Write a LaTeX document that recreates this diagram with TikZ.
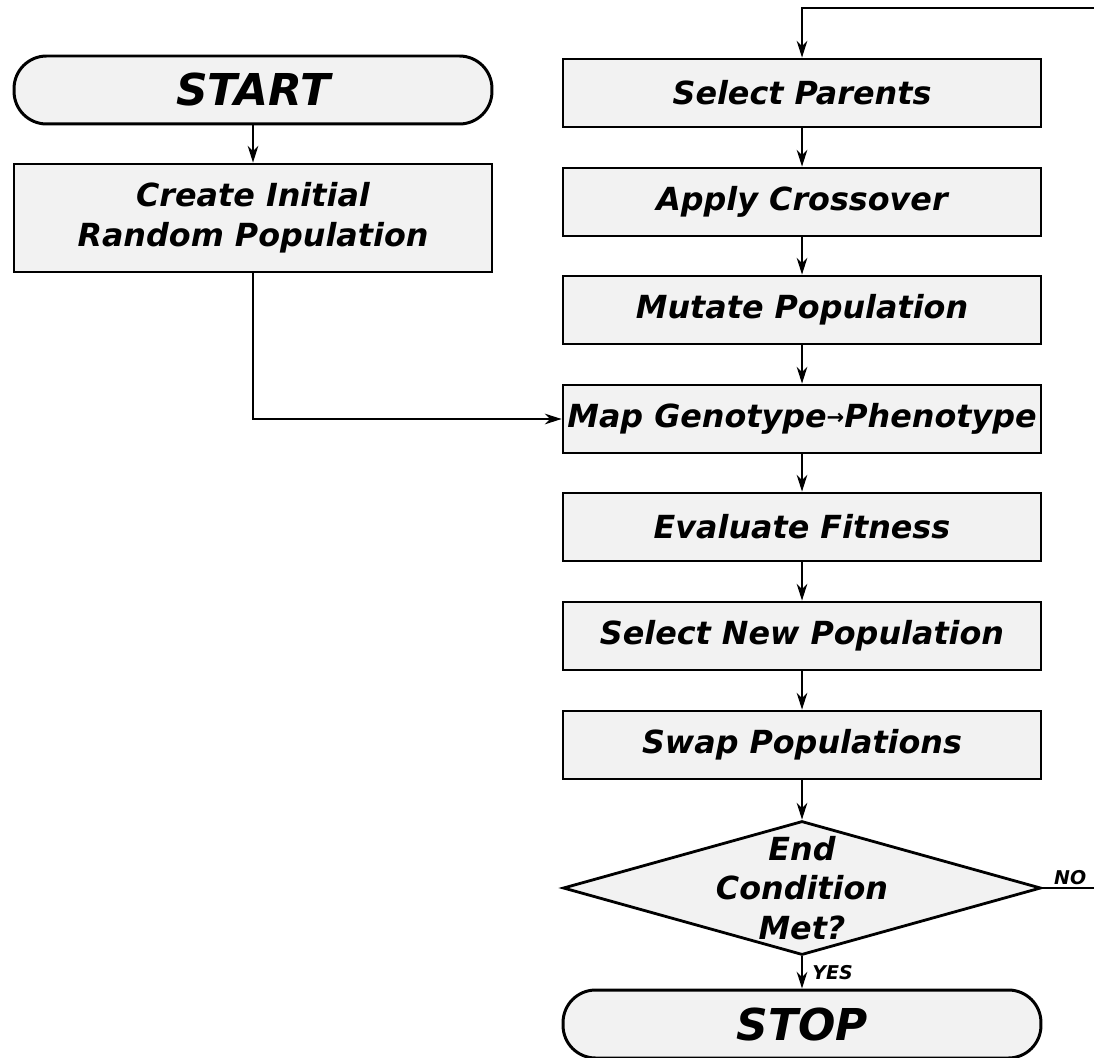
\documentclass[tikz,border=0pt]{standalone}
\usepackage{fontspec}
\setmainfont{DejaVu Sans}
\usetikzlibrary{shapes.geometric,arrows.meta}

\newcommand{\stepfont}{\fontsize{18.1}{22.6}\selectfont\bfseries\itshape}
\newcommand{\termfont}{\fontsize{25}{28}\selectfont\bfseries\itshape}
\newcommand{\tagfont}{\fontsize{10.8}{12}\selectfont\bfseries\itshape}
\newcommand{\maparrow}{\raisebox{1.6pt}{\fontsize{12}{12}\selectfont →}}

\begin{document}
\begin{tikzpicture}[x=0.02cm, y=-0.02cm,
		stepbox/.style={draw, line width=1.6pt, fill=black!5, minimum width=9.56cm, minimum height=1.36cm, inner sep=1pt, align=center, font=\stepfont},
		termbox/.style={stepbox, line width=1.7pt, rounded corners=0.65cm, font=\termfont},
		decision/.style={diamond, draw, line width=1.6pt, fill=black!5, aspect=3.57, inner sep=0pt, minimum width=9.56cm, minimum height=2.68cm},
		flow/.style={line width=1.3pt, -{Stealth[length=9.5pt, width=6pt, inset=3pt]}},
		tag/.style={font=\tagfont, inner sep=1pt}]
		\useasboundingbox (0,0) rectangle (1094,1057);

		\node[termbox] (start) at (253,90) {START};
		\node[stepbox, minimum height=2.16cm] (init) at (253,218) {Create Initial\\Random Population};

		\node[stepbox] (parents) at (802,93) {Select Parents};
		\node[stepbox] (cross) at (802,202) {Apply Crossover};
		\node[stepbox] (mutate) at (802,310) {Mutate Population};
		\node[stepbox] (map) at (802,419) {Map Genotype\maparrow Phenotype};
		\node[stepbox] (eval) at (802,527) {Evaluate Fitness};
		\node[stepbox] (newpop) at (802,636) {Select New Population};
		\node[stepbox] (swap) at (802,745) {Swap Populations};
		\node[decision] (cond) at (802,888) {};
		\node[align=center, font=\stepfont] (condtext) at (cond) {End\\Condition\\Met?};
		\node[termbox] (stop) at (802,1024) {STOP};

		\coordinate (loop) at (1098,8);

		\draw[flow] (start) -- (init);
		\draw[flow] (init.south) |- (map.west);

		\draw[flow] (parents) -- (cross);
		\draw[flow] (cross) -- (mutate);
		\draw[flow] (mutate) -- (map);
		\draw[flow] (map) -- (eval);
		\draw[flow] (eval) -- (newpop);
		\draw[flow] (newpop) -- (swap);
		\draw[flow] (swap) -- (cond);
		\draw[flow] (cond.south) -- node[tag, right, xshift=0.15cm] {YES} (stop.north);

		\draw[flow] (cond.east) -| node[tag, pos=0.25, above] {NO} (loop) -| (parents.north);
	\end{tikzpicture}
\end{document}
